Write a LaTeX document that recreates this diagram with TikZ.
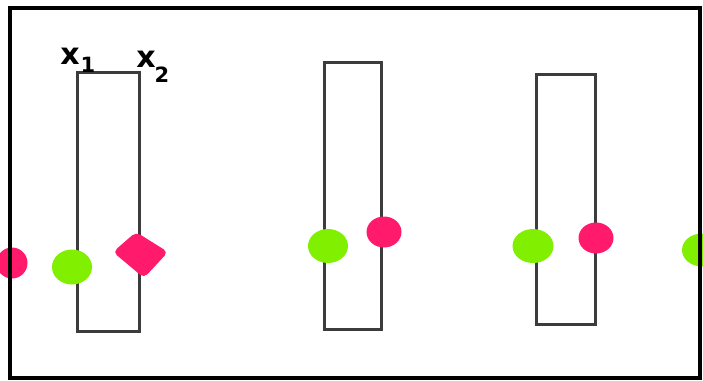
\documentclass[tikz,border=0pt]{standalone}
\usepackage{fontspec}
\setmainfont{DejaVu Sans}
\definecolor{dotpink}{HTML}{FF1A6C}
\definecolor{dotgreen}{HTML}{80F000}
\definecolor{rectgrey}{HTML}{3C3C3C}
\tikzset{
  barrect/.style={draw=rectgrey, line width=3pt},
  frame/.style={draw=black, line width=4pt},
  pinkdot/.style={ellipse, fill=dotpink, inner sep=0pt},
  greendot/.style={ellipse, fill=dotgreen, inner sep=0pt},
  lbl/.style={inner sep=0pt, font=\fontsize{30}{30}\selectfont\bfseries},
  sublbl/.style={inner sep=0pt, font=\fontsize{21}{21}\selectfont\bfseries},
}
\usetikzlibrary{shapes.geometric}
\begin{document}
\begin{tikzpicture}[x=1pt,y=-1pt]
\useasboundingbox (0,0) rectangle (703,380);
\begin{scope}
\clip (0,0) rectangle (703,380);
% bars
\draw[barrect] (77,72) rectangle (139,331);
\draw[barrect] (324,62) rectangle (381,329);
\draw[barrect] (536,74) rectangle (595,324);
% dots
\node[pinkdot, minimum width=31pt, minimum height=31pt] (p1) at (12,263) {};
\node[greendot, minimum width=40pt, minimum height=35pt] (g1) at (72,267) {};
\fill[dotpink, rounded corners=5pt] (113,252) -- (136,232) -- (168,252) -- (144,278) -- cycle;
\node[pinkdot, minimum width=35pt, minimum height=31pt] (p3) at (384,232) {};
\node[greendot, minimum width=40pt, minimum height=34pt] (g2) at (328,246) {};
\node[greendot, minimum width=41pt, minimum height=34pt] (g3) at (533,246) {};
\node[pinkdot, minimum width=35pt, minimum height=31pt] (p4) at (596,238) {};
\node[greendot, minimum width=40pt, minimum height=33pt] (g4) at (702,250) {};
\end{scope}
% frame
\draw[frame] (10,8) rectangle (700,378);
% labels
\node[lbl] (x1) at (70,56) {x};
\node[sublbl] (s1) at (88,65) {1};
\node[lbl] (x2) at (146,59) {x};
\node[sublbl] (s2) at (162,75) {2};
\end{tikzpicture}
\end{document}
